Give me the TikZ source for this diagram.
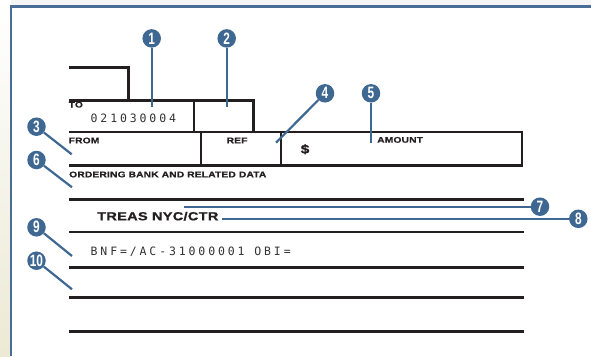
\documentclass[tikz,border=0pt]{standalone}
\usepackage{fontspec}
\setmainfont{Liberation Sans}
\newfontfamily\formfont{Liberation Sans}[FakeStretch=1.25,LetterSpace=2,FakeBold=0.6]
\newfontfamily\typefont{DejaVu Sans Mono}[LetterSpace=25]
\newfontfamily\numfont{Liberation Sans}[FakeStretch=0.72]
\definecolor{calloutblue}{RGB}{62,104,146}
\definecolor{frameblue}{RGB}{72,110,152}
\definecolor{ink}{RGB}{35,31,32}
\definecolor{paper}{RGB}{236,233,212}
\tikzset{formline/.style={draw=ink, line width=2.8pt},
    fieldlabel/.style={inner sep=0pt, anchor=base west, text=ink,
        font=\formfont\bfseries\fontsize{8.2}{9}\selectfont},
    typed/.style={inner sep=0pt, anchor=base west, text=black!80,
        font=\typefont\fontsize{11.5}{13}\selectfont},
    callout/.style={circle, fill=calloutblue, text=white, inner sep=0pt,
        minimum size=18.5pt, font=\numfont\bfseries\fontsize{16.5}{16}\selectfont},
    calloutline/.style={draw=calloutblue, line width=2.2pt},
    }
\begin{document}
\begin{tikzpicture}[x=1pt, y=-1pt]
\useasboundingbox (0,0) rectangle (591,356);
\fill[white] (0,0) rectangle (591,356);
\fill[top color=white, bottom color=paper] (0,0) rectangle (11,356);
\fill[black!4] (11,0) rectangle (591,6);
\draw[frameblue, line width=2.8pt] (11,356) -- (11,6.3) -- (591,6.3);%frame
% form rules
\draw[formline] (69,67.5) -- (128.7,67.5) -- (128.7,100.5);
\draw[formline] (69,100.5) -- (253.5,100.5) -- (253.5,132);
\draw[formline] (194,100.5) -- (194,132);
\draw[formline] (69,132) -- (522,132) -- (522,165.5) -- (69,165.5);
\draw[formline] (201,132) -- (201,165.5);
\draw[formline] (281,132) -- (281,165.5);
\foreach \y in {199.5,232,267.5,297.5,331.5}
    \draw[formline] (69,\y) -- (524,\y);
% field names and entries
\node[fieldlabel] (to) at (68.5,107.5) {TO};
\node[typed] (aba) at (90.5,122.5) {021030004};
\node[fieldlabel] (from) at (68.5,143.3) {FROM};
\node[fieldlabel] (ref) at (226.5,143.3) {REF};
\node[fieldlabel] (amount) at (377,142.7) {AMOUNT};
\node[fieldlabel, font=\formfont\bfseries\fontsize{12.5}{14}\selectfont] (dollar) at (300.5,153.5) {\$};
\node[fieldlabel] (ordering) at (69,177.3) {ORDERING BANK AND RELATED DATA};
\node[fieldlabel, font=\formfont\bfseries\fontsize{11.7}{14}\selectfont] (treas) at (97,220.3) {TREAS NYC/CTR};
\node[typed] (bnf) at (90.5,255) {BNF=/AC-31000001 OBI=};
% callouts
\foreach \n/\cx/\cy/\tx/\ty in {1/151.7/38.4/151.7/107, 2/226.7/38.4/226.7/107,
    3/36.5/126.7/71.7/154.3, 4/325/93.3/276/142.7, 5/371/93.3/371/143.3,
    6/36.5/160/72/187.3, 7/540/206.7/184/206.7, 8/578.3/218.8/221.7/218.8,
    9/36.5/227.3/72/256, 10/36.5/260.7/72/289.3}{
    \node[callout] (c\n) at (\cx,\cy) {\n};
    \coordinate (t\n) at (\tx,\ty);
    \draw[calloutline] (c\n) -- (t\n);
}
\end{tikzpicture}
\end{document}
